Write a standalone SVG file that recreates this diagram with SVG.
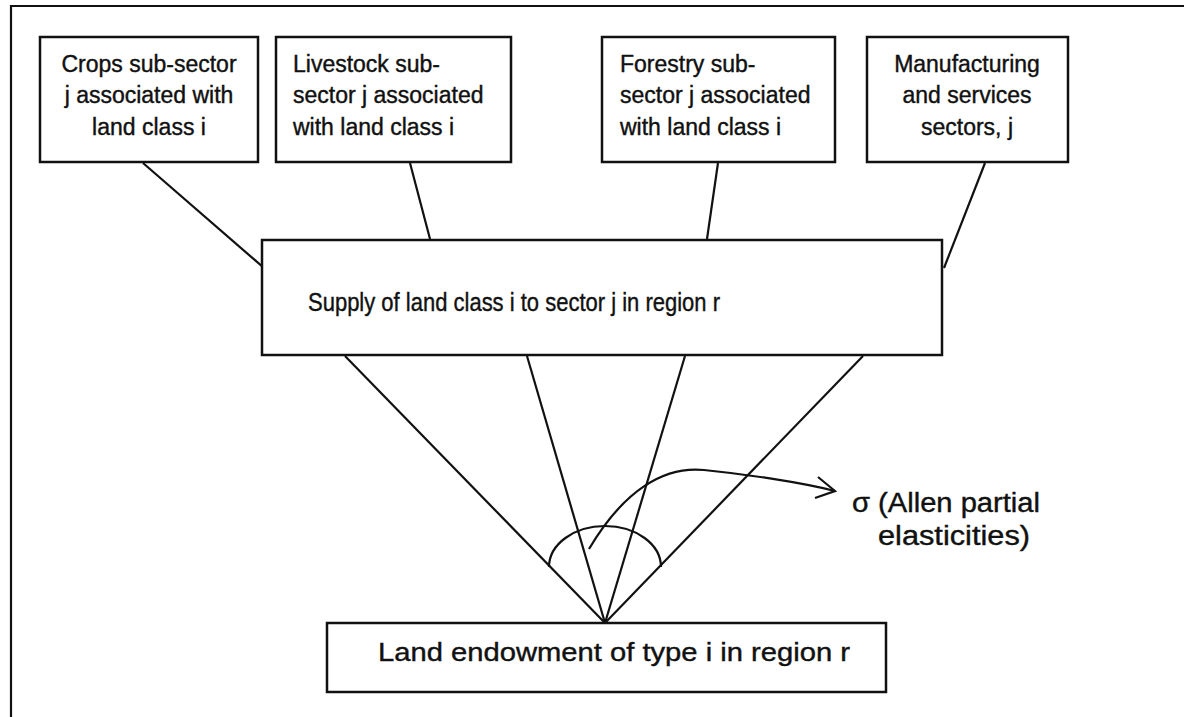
<svg xmlns="http://www.w3.org/2000/svg" width="1184" height="717" viewBox="0 0 1184 717">
<style>
.box{fill:#fff;stroke:#111;stroke-width:2.5}
.ln{stroke:#111;stroke-width:2.2;fill:none}
.t{font-family:"Liberation Sans",Arial,sans-serif;font-size:23px;fill:#111;stroke:#111;stroke-width:0.4}
.tm{font-family:"Liberation Sans",Arial,sans-serif;font-size:26px;fill:#111;stroke:#111;stroke-width:0.4}
.ts{font-family:"Liberation Sans",Arial,sans-serif;font-size:27px;fill:#111;stroke:#111;stroke-width:0.4}
.c{text-anchor:middle}
</style>
<rect width="1184" height="717" fill="#fff"/>
<g id="frame">
<path class="ln" d="M11,717 V6 H1184"/>
</g>
<g id="connectors">
<line class="ln" x1="143" y1="163" x2="264" y2="268"/>
<line class="ln" x1="410" y1="163" x2="430" y2="239"/>
<line class="ln" x1="718" y1="163" x2="707" y2="239"/>
<line class="ln" x1="985" y1="163" x2="944" y2="268"/>
<line class="ln" x1="345" y1="356" x2="605" y2="623"/>
<line class="ln" x1="527" y1="356" x2="605" y2="623"/>
<line class="ln" x1="685" y1="356" x2="605" y2="623"/>
<line class="ln" x1="863" y1="356" x2="605" y2="623"/>
<path class="ln" d="M549,567 A56,41 0 0 1 661,567"/>
<path class="ln" d="M589,549 C624,490 664,466 704,470 S800,482 835,491"/>
<polyline class="ln" points="818,477 835,491 815,498"/>
</g>
<g id="crops">
<rect class="box" x="40" y="37" width="218" height="125"/>
<text class="t c" x="149" y="72">Crops sub-sector</text>
<text class="t c" x="149" y="103">j associated with</text>
<text class="t c" x="149" y="135">land class i</text>
</g>
<g id="livestock">
<rect class="box" x="276" y="37" width="235" height="125"/>
<text class="t" x="293" y="72">Livestock sub-</text>
<text class="t" x="293" y="103">sector j associated</text>
<text class="t" x="293" y="135">with land class i</text>
</g>
<g id="forestry">
<rect class="box" x="602" y="37" width="233" height="125"/>
<text class="t" x="620" y="72">Forestry sub-</text>
<text class="t" x="620" y="103">sector j associated</text>
<text class="t" x="620" y="135">with land class i</text>
</g>
<g id="manufacturing">
<rect class="box" x="867" y="37" width="201" height="125"/>
<text class="t c" x="967" y="72">Manufacturing</text>
<text class="t c" x="967" y="103">and services</text>
<text class="t c" x="967" y="135">sectors, j</text>
</g>
<g id="supply">
<rect class="box" x="262" y="240" width="680" height="115"/>
<text class="tm" x="308" y="311" textLength="412" lengthAdjust="spacingAndGlyphs">Supply of land class i to sector j in region r</text>
</g>
<g id="endowment">
<rect class="box" x="327" y="623" width="559" height="69"/>
<text class="tm" x="378" y="661" textLength="472" lengthAdjust="spacingAndGlyphs">Land endowment of type i in region r</text>
</g>
<g id="sigma">
<text class="ts" x="852" y="512" textLength="188" lengthAdjust="spacingAndGlyphs">σ (Allen partial</text>
<text class="ts" x="878" y="545" textLength="152" lengthAdjust="spacingAndGlyphs">elasticities)</text>
</g>
</svg>
